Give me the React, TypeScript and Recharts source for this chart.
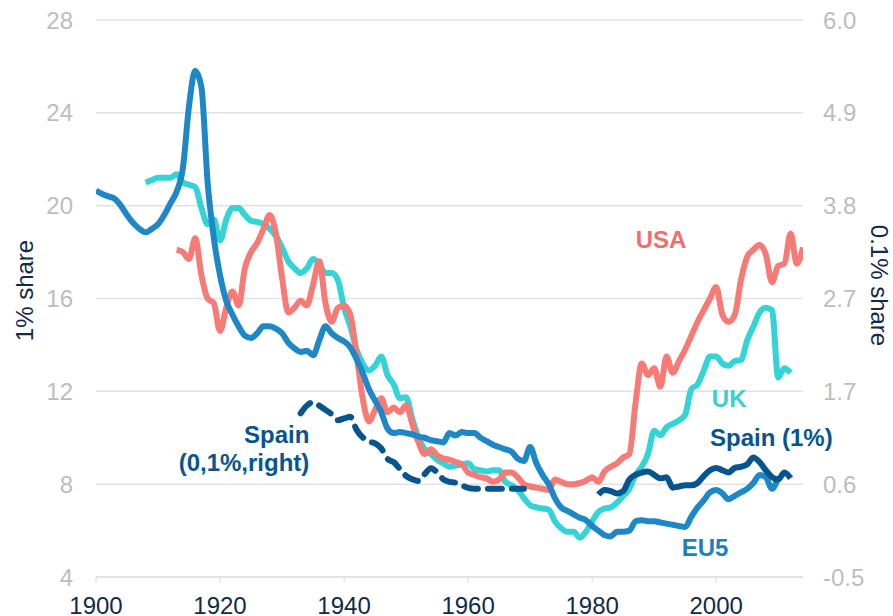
import React from 'react';
import { LineChart, Line, XAxis, YAxis, CartesianGrid, ReferenceDot } from 'recharts';

// years covered by the chart
const START_YEAR = 1900;
const END_YEAR = 2014;

// EU5 top 1% share, 1900-2010 (left axis)
const eu5 = [
  20.65, 20.5, 20.4, 20.3, 20.0, 19.6, 19.25, 19.0, 18.85, 19.0,
  19.2, 19.6, 20.1, 20.6, 21.6, 24.3, 25.8, 25.1, 21.0, 18.6,
  17.0, 15.9, 15.3, 14.8, 14.4, 14.3, 14.5, 14.8, 14.8, 14.7,
  14.5, 14.1, 13.85, 13.7, 13.75, 13.55, 14.2, 14.8, 14.5, 14.3,
  14.15, 13.9, 13.4, 12.8, 12.1, 11.6, 11.1, 10.4, 10.2, 10.25,
  10.2, 10.15, 10.05, 10.0, 9.9, 9.85, 9.8, 10.2, 10.1, 10.25,
  10.2, 10.2, 10.0, 9.85, 9.7, 9.6, 9.5, 9.4, 9.1, 9.0,
  9.6, 8.9, 8.4, 8.0, 7.4, 7.0, 6.85, 6.7, 6.55, 6.45,
  6.2, 6.0, 5.8, 5.75, 5.95, 5.95, 6.0, 6.4, 6.45, 6.4,
  6.4, 6.35, 6.3, 6.25, 6.2, 6.15, 6.6, 7.0, 7.3, 7.65,
  7.75, 7.6, 7.35, 7.5, 7.65, 7.8, 8.05, 8.4, 8.3, 7.8,
  8.3,
];

// USA top 1% share, 1913-2014 (left axis)
const usaStart = 1913;
const usa = [
  18.1, 18.0, 17.7, 18.6, 17.0, 16.0, 15.8,
  14.6, 15.6, 16.3, 15.7, 17.3, 18.0, 18.4, 19.0, 19.6, 18.8,
  16.9, 15.4, 15.6, 15.9, 15.7, 16.6, 17.6, 15.8, 15.0, 15.6,
  15.7, 15.3, 13.6, 11.7, 10.7, 11.2, 11.7, 11.1, 11.3, 11.1,
  11.4, 10.6, 9.8, 9.3, 9.5, 9.25, 9.1, 9.05, 8.95, 8.85,
  8.5, 8.4, 8.3, 8.25, 8.1, 8.2, 8.5, 8.5, 8.3, 8.0,
  7.9, 7.85, 7.8, 7.75, 8.2, 8.1, 8.0, 8.0, 8.05, 8.15,
  8.3, 8.1, 8.55, 8.75, 8.9, 9.15, 9.3, 11.5, 13.2, 12.7,
  13.0, 12.2, 13.5, 12.8, 13.3, 13.8, 14.4, 15.0, 15.5, 16.0,
  16.5, 15.3, 15.0, 15.3, 16.8, 17.8, 18.1, 18.3, 17.9, 16.7,
  17.4, 17.5, 18.8, 17.5, 18.2,
];

// UK top 1% share, 1908-2012 (left axis)
const ukStart = 1908;
const uk = [
  21.0, 21.1,
  21.2, 21.2, 21.2, 21.35, 21.0, 20.9, 20.8, 19.9, 19.2, 19.4,
  18.5, 19.4, 19.9, 19.9, 19.6, 19.35, 19.3, 19.2, 19.0, 18.7,
  18.2, 17.6, 17.3, 17.1, 17.3, 17.7, 17.5, 17.1, 17.1, 16.8,
  15.6, 14.8, 13.8, 13.2, 12.9, 13.1, 13.5, 12.7, 12.3, 11.7,
  11.75, 10.8, 10.0, 9.5, 9.3, 9.05, 8.9, 8.75, 8.8, 8.85,
  8.9, 8.65, 8.6, 8.55, 8.6, 8.6, 8.1, 7.95, 7.75, 7.4,
  7.1, 7.0, 6.95, 6.9, 6.4, 6.1, 5.95, 5.95, 5.7, 5.95,
  6.4, 6.8, 6.95, 7.0, 7.2, 7.5, 7.8, 8.4, 8.75, 9.3,
  10.3, 10.1, 10.45, 10.6, 10.75, 11.0, 12.1, 12.3, 12.9, 13.5,
  13.5, 13.2, 13.1, 13.3, 13.35, 14.2, 14.8, 15.4, 15.6, 15.5,
  12.6, 13.0, 12.8,
];

// Spain top 1% share, 1981-2012 (left axis)
const spain1Start = 1981;
const spain1 = [
  7.55, 7.75, 7.7, 7.6, 7.7, 8.2, 8.4, 8.5, 8.55,
  8.4, 8.25, 8.3, 7.85, 7.9, 7.95, 7.95, 8.05, 8.35, 8.6,
  8.7, 8.6, 8.5, 8.7, 8.75, 8.85, 9.15, 8.95, 8.6, 8.3,
  8.2, 8.5, 8.25,
];

// Spain top 0.1% share, 1933-1969 (right axis)
const spain01Start = 1933;
const spain01 = [
  1.41, 1.5, 1.54, 1.5, 1.45, 1.4, 1.33,
  1.35, 1.37, 1.22, 1.13, 1.08, 1.06, 1.0, 0.88, 0.84, 0.76,
  0.68, 0.64, 0.62, 0.7, 0.77, 0.72, 0.64, 0.61, 0.6, 0.57,
  0.54, 0.53, 0.53, 0.53, 0.53, 0.53, 0.53, 0.53, 0.53, 0.53,
];

const xTicks = [1900, 1920, 1940, 1960, 1980, 2000];
const leftTicks = [4, 8, 12, 16, 20, 24, 28];
const rightTicks = [-0.5, 0.5833, 1.6667, 2.75, 3.8333, 4.9167, 6.0];
const rightTickLabels = ['-0.5', '0.6', '1.7', '2.7', '3.8', '4.9', '6.0'];

const pick = (arr: number[], start: number, year: number) => {
  const v = arr[year - start];
  return v === undefined ? null : v;
};

const data: any[] = [];
for (let y = START_YEAR; y <= END_YEAR; y++) {
  data.push({
    year: y,
    eu5: pick(eu5, START_YEAR, y),
    usa: pick(usa, usaStart, y),
    uk: pick(uk, ukStart, y),
    spain1: pick(spain1, spain1Start, y),
    spain01: pick(spain01, spain01Start, y),
  });
}

const FONT = '"Liberation Sans", Arial, Helvetica, sans-serif';
const USA_COLOR = '#F67A76';
const UK_COLOR = '#33D3D6';
const EU5_COLOR = '#1E87C6';
const SPAIN_COLOR = '#07558F';
const NAVY = '#102A4C';

const tag = (value: string, fill: string, anchor = 'middle') => ({
  value,
  position: 'center' as const,
  fill,
  fontSize: 24,
  fontWeight: 700,
  fontFamily: FONT,
  style: { textAnchor: anchor },
});

// rotated axis title, placed relative to the axis box
const axisTitle = (text: string, angle: number, dx: number, dy: number) => (props: any) => {
  const vb = props.viewBox || { x: 0, y: 0, width: 0, height: 0 };
  const cx = vb.x + dx;
  const cy = vb.y + vb.height / 2 + dy;
  return (
    <text
      x={cx}
      y={cy}
      transform={`rotate(${angle} ${cx} ${cy})`}
      textAnchor="middle"
      dominantBaseline="central"
      fill={NAVY}
      fontSize={24}
      fontFamily={FONT}
    >
      {text}
    </text>
  );
};

export default function App() {
  return (
    <div style={{ position: 'absolute', left: 0, top: 0, background: '#fff' }}>
      <LineChart
        width={893}
        height={616}
        data={data}
        margin={{ top: 20, right: 0, bottom: 0, left: 0 }}
        style={{ fontFamily: FONT }}
      >
        <CartesianGrid vertical={false} stroke="#e2e2e2" strokeWidth={1.5} yAxisId="left" />
        <XAxis
          dataKey="year"
          type="number"
          domain={[START_YEAR, END_YEAR]}
          ticks={xTicks}
          height={39}
          axisLine={{ stroke: '#dcdcdc' }}
          tickLine={{ stroke: '#dcdcdc' }}
          tickSize={6}
          tickMargin={14}
          tick={{ fill: NAVY, fontSize: 24, fontFamily: FONT }}
          allowDataOverflow
        />
        <YAxis
          yAxisId="left"
          orientation="left"
          width={96}
          domain={[4, 28]}
          ticks={leftTicks}
          axisLine={false}
          tickLine={false}
          tickSize={0}
          tickMargin={23}
          tick={{ fill: '#bdbdbd', fontSize: 24, fontFamily: FONT }}
          label={{ content: axisTitle('1% share', -90, 24, -8) }}
        />
        <YAxis
          yAxisId="right"
          orientation="right"
          width={90}
          domain={[-0.5, 6.0]}
          ticks={rightTicks}
          tickFormatter={(v: number, i: number) => rightTickLabels[i]}
          axisLine={false}
          tickLine={false}
          tickSize={0}
          tickMargin={20}
          tick={{ fill: '#bdbdbd', fontSize: 24, fontFamily: FONT }}
          label={{ content: axisTitle('0.1% share', 90, 76, -13) }}
        />
        <Line yAxisId="left" type="monotone" dataKey="uk" stroke={UK_COLOR} strokeWidth={6} dot={false} isAnimationActive={false} />
        <Line yAxisId="left" type="monotone" dataKey="usa" stroke={USA_COLOR} strokeWidth={6} dot={false} isAnimationActive={false} />
        <Line yAxisId="left" type="monotone" dataKey="eu5" stroke={EU5_COLOR} strokeWidth={6} dot={false} isAnimationActive={false} />
        <Line
          yAxisId="right"
          type="monotone"
          dataKey="spain01"
          stroke={SPAIN_COLOR}
          strokeWidth={6}
          strokeDasharray="14 10"
          strokeLinecap="round"
          dot={false}
          isAnimationActive={false}
        />
        <Line yAxisId="left" type="monotone" dataKey="spain1" stroke={SPAIN_COLOR} strokeWidth={6} dot={false} isAnimationActive={false} />
        <ReferenceDot yAxisId="left" x={1991.1} y={18.56} r={0} stroke="none" label={tag('USA', '#F26E6B')} />
        <ReferenceDot yAxisId="left" x={2002.1} y={11.71} r={0} stroke="none" label={tag('UK', '#3ACFD1')} />
        <ReferenceDot yAxisId="left" x={2008.9} y={10.03} r={0} stroke="none" label={tag('Spain (1%)', SPAIN_COLOR)} />
        <ReferenceDot yAxisId="left" x={1998.2} y={5.29} r={0} stroke="none" label={tag('EU5', '#1E7FC0')} />
        <ReferenceDot yAxisId="left" x={1934.4} y={10.12} r={0} stroke="none" label={tag('Spain', SPAIN_COLOR, 'end')} />
        <ReferenceDot yAxisId="left" x={1934.4} y={8.95} r={0} stroke="none" label={tag('(0,1%,right)', SPAIN_COLOR, 'end')} />
      </LineChart>
    </div>
  );
}
